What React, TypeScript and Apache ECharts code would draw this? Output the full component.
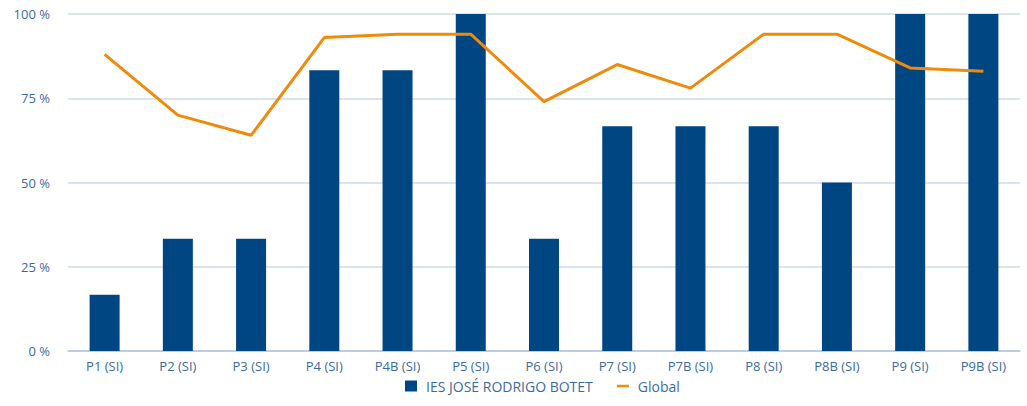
import React, { useEffect, useRef } from "react";
import * as echarts from "echarts";

const categories = ["P1 (SI)", "P2 (SI)", "P3 (SI)", "P4 (SI)", "P4B (SI)", "P5 (SI)", "P6 (SI)", "P7 (SI)", "P7B (SI)", "P8 (SI)", "P8B (SI)", "P9 (SI)", "P9B (SI)"];
const schoolValues = [16.67, 33.33, 33.33, 83.33, 83.33, 100, 33.33, 66.67, 66.67, 66.67, 50, 100, 100];
const globalValues = [88, 70, 64, 93, 94, 94, 74, 85, 78, 94, 94, 84, 83];
const schoolName = "IES JOSÉ RODRIGO BOTET";
const globalName = "Global";

export default function App() {
  const ref = useRef<HTMLDivElement>(null);
  useEffect(() => {
    if (!ref.current) return;
    const chart = echarts.init(ref.current, undefined, { renderer: "svg" });
    const font = "'Open Sans', Roboto, sans-serif";
    const labelColor = "#3c6a9e";
    chart.setOption({
      animation: false,
      textStyle: { fontFamily: font },
      grid: { left: 68, right: 7, top: 14, bottom: 55, containLabel: false },
      legend: {
        bottom: 8,
        left: 400,
        itemWidth: 12,
        itemHeight: 11,
        itemGap: 24,
        textStyle: { color: labelColor, fontSize: 14, fontFamily: font, padding: [0, 0, 0, 4] },
        data: [
          { name: schoolName, icon: "rect" },
          { name: globalName, icon: "path://M0,0 L12,0 L12,2.5 L0,2.5 Z" },
        ],
      },
      xAxis: {
        type: "category",
        data: categories,
        axisTick: { show: false },
        axisLine: { lineStyle: { color: "#b3c5da", width: 1.5 } },
        axisLabel: { color: labelColor, fontSize: 13, margin: 8, fontFamily: font },
      },
      yAxis: {
        type: "value",
        min: 0,
        max: 100,
        interval: 25,
        axisLabel: { color: labelColor, fontSize: 13, formatter: "{value} %", margin: 18, fontFamily: font },
        splitLine: { lineStyle: { color: "#cfdbe8", width: 1.5 } },
        axisLine: { show: false },
        axisTick: { show: false },
      },
      series: [
        {
          name: schoolName,
          type: "bar",
          data: schoolValues,
          barWidth: 30,
          itemStyle: { color: "#004683" },
        },
        {
          name: globalName,
          type: "line",
          data: globalValues,
          symbol: "none",
          lineStyle: { color: "#ee8a0c", width: 3 },
          itemStyle: { color: "#ee8a0c" },
        },
      ],
    });
    return () => chart.dispose();
  }, []);
  return (
    <div
      ref={ref}
      style={{ position: "absolute", left: 0, top: 0, width: 1027, height: 406 }}
    />
  );
}
